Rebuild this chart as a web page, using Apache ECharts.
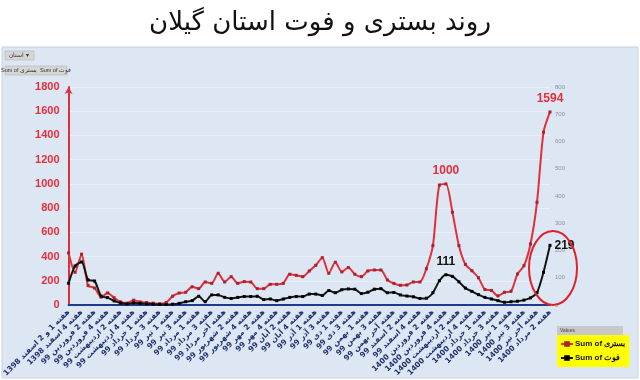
<!DOCTYPE html>
<html>
<head>
<meta charset="utf-8">
<script src="https://cdn.jsdelivr.net/npm/echarts@6/dist/echarts.min.js"></script>
<style>html,body{margin:0;padding:0;background:#fff}#c{width:640px;height:380px}</style>
</head>
<body>
<div id="c"></div>
<script>
const categories = [
"هفته 1 و 2 اسفند 1398","هفته 3 اسفند 1398","هفته 4 اسفند 1398",
"هفته 1 فروردین 99","هفته 2 فروردین 99","هفته 3 فروردین 99","هفته 4 فروردین 99",
"هفته 1 اردیبهشت 99","هفته 2 اردیبهشت 99","هفته 3 اردیبهشت 99","هفته 4 اردیبهشت 99","هفته آخر اردیبهشت 99",
"هفته 1 خرداد 99","هفته 2 خرداد 99","هفته 3 خرداد 99","هفته 4 خرداد 99",
"هفته 1 تیر 99","هفته 2 تیر 99","هفته 3 تیر 99","هفته 4 تیر 99",
"هفته 1 مرداد 99","هفته 2 مرداد 99","هفته 3 مرداد 99","هفته 4 مرداد 99","هفته آخر مرداد 99",
"هفته 1 شهریور 99","هفته 2 شهریور 99","هفته 3 شهریور 99","هفته 4 شهریور 99",
"هفته 1 مهر 99","هفته 2 مهر 99","هفته 3 مهر 99","هفته 4 مهر 99",
"هفته 1 آبان 99","هفته 2 آبان 99","هفته 3 آبان 99","هفته 4 آبان 99","هفته آخر آبان 99",
"هفته 1 آذر 99","هفته 2 آذر 99","هفته 3 آذر 99","هفته 4 آذر 99",
"هفته 1 دی 99","هفته 2 دی 99","هفته 3 دی 99","هفته 4 دی 99",
"هفته 1 بهمن 99","هفته 2 بهمن 99","هفته 3 بهمن 99","هفته 4 بهمن 99","هفته آخر بهمن 99",
"هفته 1 اسفند 99","هفته 2 اسفند 99","هفته 3 اسفند 99","هفته 4 اسفند 99",
"هفته 1 فروردین 1400","هفته 2 فروردین 1400","هفته 3 فروردین 1400","هفته 4 فروردین 1400",
"هفته 1 اردیبهشت 1400","هفته 2 اردیبهشت 1400","هفته 3 اردیبهشت 1400","هفته 4 اردیبهشت 1400","هفته آخر اردیبهشت 1400",
"هفته 1 خرداد 1400","هفته 2 خرداد 1400","هفته 3 خرداد 1400","هفته 4 خرداد 1400",
"هفته 1 تیر 1400","هفته 2 تیر 1400","هفته 3 تیر 1400","هفته 4 تیر 1400","هفته آخر تیر 1400",
"هفته 1 مرداد 1400","هفته 2 مرداد 1400"
];
// بستری (left axis)
const hospitalized = [
430,270,420,160,140,65,100,60,25,15,
40,25,20,15,10,20,73,99,105,150,
135,190,179,262,190,234,179,193,190,135,
135,171,171,179,254,245,234,281,328,391,
262,353,273,309,254,234,281,289,289,207,
179,163,165,190,190,300,490,990,1000,766,
490,335,283,225,128,120,75,105,113,256,
325,504,848,1426,1594
];
// فوت (right axis)
const deaths = [
80,143,158,92,88,33,27,15,7,4,
8,6,4,3,2,2,3,6,12,16,
32,12,37,37,28,24,28,31,31,32,
20,22,16,22,28,31,31,40,40,35,
53,45,56,59,58,42,47,58,60,45,
46,37,33,30,24,25,45,89,111,105,
85,62,50,38,28,22,16,10,12,14,
18,26,45,120,219
];
// category indices whose values are written on the chart
const hospitalizedLabelled = [58, 74];
const deathsLabelled = [58, 74];
const leftTicks = {min:0, max:1800, interval:200};
const rightTicks = {min:0, max:800, interval:100};
const seriesNames = ["Sum of بستری", "Sum of فوت"];
const titleText = "روند بستری و فوت استان گیلان";

const RED = '#e2303a';
function withLabels(arr, idxs, color, posLast){
  const last = arr.length-1;
  return arr.map((v,i)=>{
    if(idxs.indexOf(i)<0) return v;
    return {value:v,label:{show:true,position:(i===last?posLast:'top'),color:color,fontWeight:'bold',fontSize:12,fontFamily:'Liberation Sans',distance:(i===last&&posLast==='right')?3:6}};
  });
}

const chart = echarts.init(document.getElementById('c'), null, {renderer:'canvas'});
chart.setOption({
  backgroundColor:'#ffffff',
  animation:false,
  title:{text:titleText,left:'center',top:5,textStyle:{fontFamily:'DejaVu Sans',fontWeight:'normal',fontSize:26,color:'#111'}},
  graphic:[
    {type:'rect',z:-100,silent:true,shape:{x:2,y:47,width:636,height:331},style:{fill:'#dde7f3',stroke:'#c8d2de',lineWidth:1}},
    {type:'rect',z:10,shape:{x:5,y:51,width:29,height:9},style:{fill:'#d6d6d6',stroke:'#a8a8a8',lineWidth:0.5}},
    {type:'text',z:11,style:{x:19,y:55.5,text:'استان ▾',fontSize:6,fill:'#333',align:'center',verticalAlign:'middle'}},
    {type:'rect',z:10,shape:{x:5,y:66,width:62,height:9},style:{fill:'#d6d6d6',stroke:'#a8a8a8',lineWidth:0.5}},
    {type:'text',z:11,style:{x:36,y:70.5,text:'Sum of بستری  Sum of فوت',fontSize:5.5,fill:'#333',align:'center',verticalAlign:'middle'}},
    {type:'ellipse',z:20,shape:{cx:553,cy:268,rx:24,ry:37},style:{fill:'none',stroke:'#e0202a',lineWidth:2}},
    {type:'rect',z:10,shape:{x:557,y:326,width:66,height:9},style:{fill:'#c8c8c8'}},
    {type:'text',z:11,style:{x:560,y:330.5,text:'Values',fontSize:5,fill:'#444',verticalAlign:'middle'}}
  ],
  legend:{
    orient:'vertical',left:557,top:335,
    backgroundColor:'#ffff00',padding:[5,4,5,3],itemGap:6,itemWidth:12,itemHeight:7,
    textStyle:{fontSize:8,fontWeight:'bold',color:'#111',fontFamily:'Liberation Sans',padding:[0,0,0,-3]},
    data:seriesNames
  },
  grid:{left:53,right:90,top:87,bottom:75},
  xAxis:{
    type:'category',data:categories,boundaryGap:false,
    axisLine:{lineStyle:{color:'#203a8c',width:2}},
    axisTick:{show:false},
    axisLabel:{interval:1,rotate:45,fontSize:7.5,fontWeight:'bold',color:'#1f2f6e',fontFamily:'DejaVu Sans',margin:6}
  },
  yAxis:[
    {type:'value',min:leftTicks.min,max:leftTicks.max,interval:leftTicks.interval,
     axisLine:{show:true,symbol:['none','arrow'],symbolSize:[6,7],lineStyle:{color:RED,width:2}},
     axisTick:{show:false},
     axisLabel:{color:RED,fontWeight:'bold',fontSize:11,fontFamily:'Liberation Sans',margin:9,formatter:v=>String(v)},
     splitLine:{lineStyle:{color:'#eaf0f8',width:1}}},
    {type:'value',min:rightTicks.min,max:rightTicks.max,interval:rightTicks.interval,position:'right',
     axisLine:{show:false},axisTick:{show:false},
     axisLabel:{color:'#8a8f99',fontSize:6,margin:5,formatter:v=>String(v)},
     splitLine:{show:false}}
  ],
  series:[
    {name:seriesNames[0],type:'line',yAxisIndex:0,smooth:0.25,
     data:withLabels(hospitalized,hospitalizedLabelled,RED,'top'),
     symbol:'rect',symbolSize:3,showSymbol:true,
     itemStyle:{color:'#a8232b'},lineStyle:{color:RED,width:2},z:3},
    {name:seriesNames[1],type:'line',yAxisIndex:1,smooth:0.25,
     data:withLabels(deaths,deathsLabelled,'#111','right'),
     symbol:'rect',symbolSize:3,showSymbol:true,
     itemStyle:{color:'#000'},lineStyle:{color:'#151515',width:2},z:4}
  ]
});
</script>
</body>
</html>
